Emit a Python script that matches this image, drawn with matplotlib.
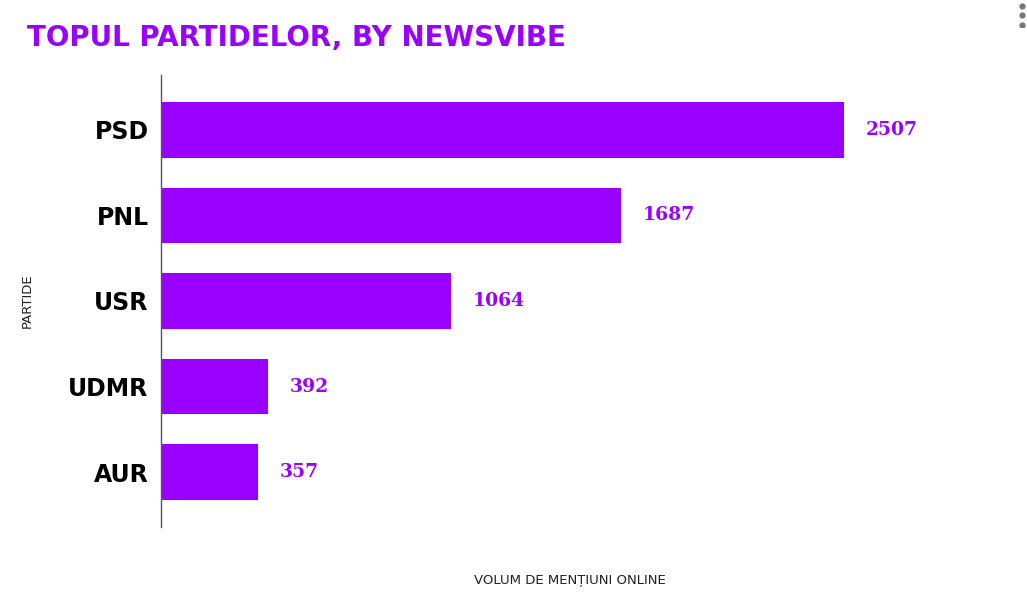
import matplotlib.pyplot as plt

# date
partide = ["PSD", "PNL", "USR", "UDMR", "AUR"]
mentiuni = [2507, 1687, 1064, 392, 357]

MOV = "#9900FF"

fig = plt.figure(figsize=(10.27, 6.11), dpi=100)
ax = fig.add_axes([0.1568, 0.1375, 0.7962, 0.7398])

poz = list(range(len(partide)))
ax.barh(poz, mentiuni, height=0.65, color=MOV)

for p, v in zip(poz, mentiuni):
    ax.annotate(str(v), (v, p), xytext=(15.5, 0), textcoords="offset points",
                ha="left", va="center", color=MOV, fontsize=13.5,
                fontweight="bold", family="DejaVu Serif")

ax.set_xlim(0, 3000)
ax.set_ylim(len(partide) - 0.36, -0.64)
ax.set_yticks(poz)
ax.set_yticklabels(partide, fontsize=17, fontweight="bold")
ax.tick_params(axis="y", length=0, pad=9)
ax.set_xticks([])

for s in ["top", "right", "bottom"]:
    ax.spines[s].set_visible(False)
ax.spines["left"].set_color("#555555")
ax.spines["left"].set_linewidth(1)

ax.set_xlabel("VOLUM DE MENȚIUNI ONLINE", fontsize=9.5, color="#222222")
ax.xaxis.set_label_coords(0.5, -0.104)
ax.set_ylabel("PARTIDE", fontsize=9.5, color="#222222")
ax.yaxis.set_label_coords(-0.156, 0.5)

fig.text(0.026, 0.938, "TOPUL PARTIDELOR, BY NEWSVIBE", color=MOV, fontsize=20,
         fontweight="bold", ha="left", va="center")

# meniul cu trei puncte din colt
meniu = fig.add_axes([0.985, 0.955, 0.02, 0.04])
meniu.plot([0, 0, 0], [0, 1, 2], "o", color="#777777", markersize=3.5)
meniu.set_xlim(-1, 1)
meniu.set_ylim(-0.3, 2.3)
meniu.axis("off")

plt.savefig("out.png", dpi=100)
